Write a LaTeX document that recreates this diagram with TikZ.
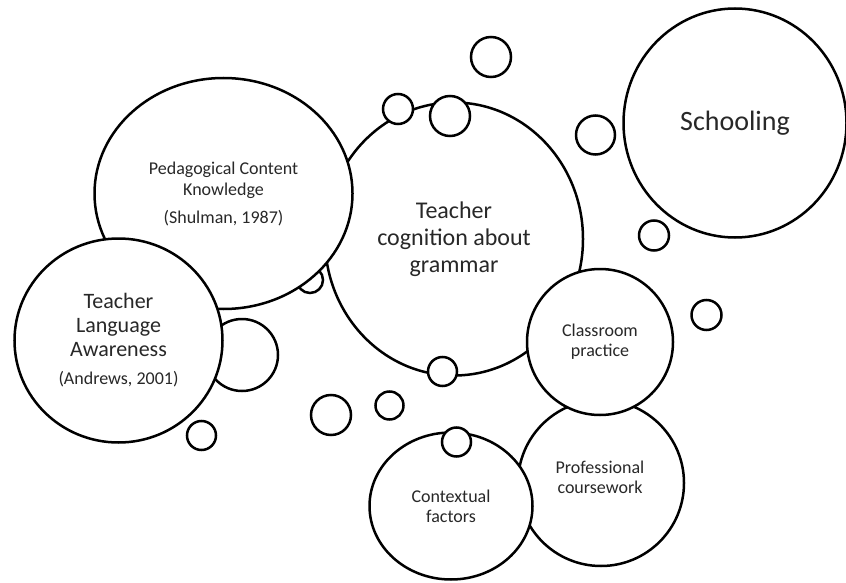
\documentclass[tikz,border=0pt]{standalone}
\usepackage{fontspec}
\setmainfont{Carlito}
\usepackage{tikz}
\usetikzlibrary{shapes.geometric, positioning}
\definecolor{mytext}{RGB}{40,40,40}
\tikzset{
  bigbub/.style={ellipse,draw=black,fill=white,line width=2.5pt,inner sep=0pt,
    align=center,text=mytext},
  smallbub/.style={circle,draw=black,fill=white,line width=2.5pt,inner sep=0pt,
    minimum size=#1},
  txtsm/.style={font=\fontsize{18}{20}\selectfont}
}
\begin{document}
\begin{tikzpicture}[x=1pt,y=-1pt]
  \useasboundingbox (0,0) rectangle (846,583);
  % behind the two big ones
  \node[smallbub=26] (sa) at (310,280) {};
  \node[bigbub, minimum width=258, minimum height=273,
    font=\fontsize{24}{27}\selectfont] (cog) at (454,239) {Teacher\\cognition about\\grammar};
  \node[smallbub=30] (sb) at (398,109) {};
  \node[smallbub=40] (sc) at (450,116) {};
  \node[smallbub=29] (sd) at (442.5,371.5) {};
  \node[bigbub, minimum width=258, minimum height=231,
    font=\fontsize{18}{21}\selectfont] (pck) at (223.5,193.5) {Pedagogical Content\\Knowledge\\[7pt](Shulman, 1987)};
  \node[smallbub=72] (se) at (242,355) {};
  \node[bigbub, minimum width=208, minimum height=204,
    font=\fontsize{22}{24}\selectfont] (tla) at (118.5,340.5)
    {Teacher\\Language\\Awareness\\[4pt]{\fontsize{18}{20}\selectfont(Andrews, 2001)}};
  % lower cluster
  \node[bigbub, minimum size=166] (prof) at (601,483) {};
  \node[txtsm, align=center, text=mytext] (proflbl) at (600,477) {Professional\\coursework};
  \node[bigbub, txtsm, minimum size=146] (class) at (600,342) {Classroom\\practice};
  \node[bigbub, txtsm, minimum width=163, minimum height=147] (ctx) at (451,506) {Contextual\\factors};
  \node[smallbub=29] (sf) at (456.5,442) {};
  % right side
  \node[bigbub, minimum width=223, minimum height=229,
    font=\fontsize{28}{30}\selectfont] (school) at (735,123) {Schooling};
  \node[smallbub=40] (sg) at (491,57) {};
  \node[smallbub=39] (sh) at (595.5,135) {};
  \node[smallbub=30] (si) at (654,235.5) {};
  \node[smallbub=30] (sj) at (706.5,315) {};
  \node[smallbub=40] (sk) at (331,415) {};
  \node[smallbub=28] (sl) at (389.5,405.5) {};
  \node[smallbub=29] (sm) at (201.5,435.5) {};
\end{tikzpicture}
\end{document}
